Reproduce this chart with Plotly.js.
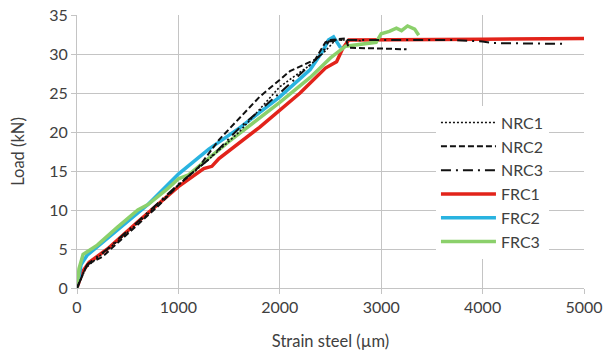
<!DOCTYPE html>
<html><head><meta charset="utf-8">
<script src="https://cdn.plot.ly/plotly-3.0.1.min.js"></script>
<style>html,body{margin:0;padding:0;background:#fff;}</style>
</head><body><div id="chart" style="width:606px;height:356px;"></div>
<script>
const seriesNames = ["NRC1","NRC2","NRC3","FRC1","FRC2","FRC3"];

const nrc1X = [0,80,150,400,700,1000,1300,1600,2000,2300,2450,2550,2700,2800];
const nrc1Y = [0,2.5,3.3,6,9.5,13.2,16.5,20,25.8,28.6,30.4,31.8,31.8,31.7];

const nrc2X = [0,100,250,500,800,1000,1200,1400,1800,2100,2350,2450,2500,2650,2680,3000,3250];
const nrc2Y = [0,3,4,7,10.5,13.2,15.5,19,24.5,27.8,29.3,31.5,31.8,32,30.8,30.7,30.6];

const nrc3X = [0,100,300,600,1000,1300,1600,2000,2200,2420,2480,2600,3000,3700,4000,4100,4800];
const nrc3Y = [0,3,5,8.5,13.3,16.5,20.5,25,27.4,30.1,31.6,31.8,31.8,31.8,31.6,31.4,31.3];

const frc1X = [0,50,120,300,600,1000,1250,1330,1400,1800,2200,2450,2560,2620,2680,3000,4000,5000];
const frc1Y = [0,2,3.3,5,8.5,13,15.3,15.6,16.6,20.6,25,28.2,29,30.7,31.8,31.8,31.9,32];

const frc2X = [0,40,100,400,700,1000,1300,1600,2000,2300,2430,2480,2530,2570,2600];
const frc2Y = [0,3,4.2,7.5,10.7,14.6,17.8,20.5,24.5,28,30.5,31.8,32.2,31.4,30.8];

const frc3X = [0,20,60,200,400,600,700,900,1000,1100,1500,2000,2300,2500,2650,2800,2950,3000,3080,3150,3200,3260,3330,3370];
const frc3Y = [0,2.5,4.3,5.5,7.8,10,10.7,12.8,14,14.5,18.8,23.8,27,29.5,31,31.3,31.5,32.6,32.9,33.3,33,33.6,33.2,32.4];

const xTicks = [0,1000,2000,3000,4000,5000];
const yTicks = [0,5,10,15,20,25,30,35];

const styles = [
  {color:"#111111", width:1.6, dash:"2px,2px"},
  {color:"#111111", width:2, dash:"6px,3px"},
  {color:"#111111", width:2, dash:"10px,5px,2px,5px"},
  {color:"#e2231a", width:3.5, dash:"solid"},
  {color:"#29b3e0", width:3.5, dash:"solid"},
  {color:"#8bd06b", width:3.5, dash:"solid"}
];
const xs = [nrc1X,nrc2X,nrc3X,frc1X,frc2X,frc3X];
const ys = [nrc1Y,nrc2Y,nrc3Y,frc1Y,frc2Y,frc3Y];
const traces = seriesNames.map((n,i)=>({
  type:"scatter", mode:"lines", name:n, x:xs[i], y:ys[i],
  line:styles[i], legendrank:i+1
}));
const drawOrder = [traces[3],traces[4],traces[5],traces[0],traces[1],traces[2]];

const font = "Lato, 'Open Sans', sans-serif";
const layout = {
  width:606, height:356,
  margin:{l:77, r:22, t:15, b:68},
  paper_bgcolor:"#fff", plot_bgcolor:"#fff",
  font:{family:font, size:16, color:"#404040"},
  showlegend:true,
  legend:{x:0.708, y:0.668, xanchor:"left", yanchor:"top", bgcolor:"#fff",
          itemwidth:55, tracegroupgap:0,
          font:{family:font, size:16, color:"#404040"}, traceorder:"normal"},
  xaxis:{range:[0,5000], tickvals:xTicks, showgrid:true, gridcolor:"#c4c4c4", gridwidth:1,
         zeroline:false, showline:true, linecolor:"#c4c4c4", ticks:"outside", ticklen:5,
         tickcolor:"#c4c4c4", tickfont:{size:16, color:"#404040"},
         title:{text:"Strain steel (µm)", font:{size:16.5, color:"#404040"}, standoff:20}},
  yaxis:{range:[0,35], tickvals:yTicks, showgrid:true, gridcolor:"#c4c4c4", gridwidth:1,
         zeroline:false, showline:true, linecolor:"#c4c4c4", ticks:"outside", ticklen:5,
         tickcolor:"#c4c4c4", tickfont:{size:16, color:"#404040"},
         title:{text:"Load (kN)", font:{size:16.5, color:"#404040"}, standoff:20}}
};
Plotly.newPlot("chart", drawOrder, layout, {staticPlot:true});
</script></body></html>
